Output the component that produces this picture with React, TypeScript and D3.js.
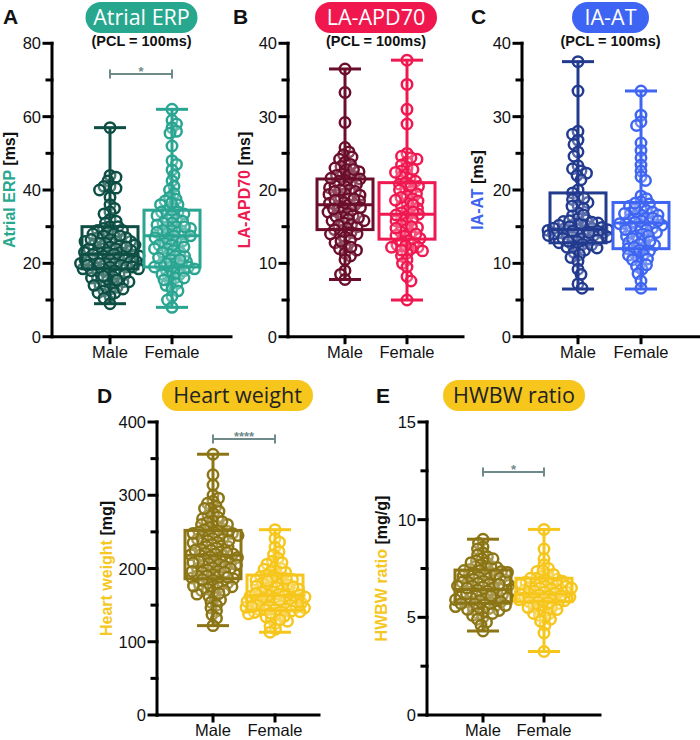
import React from 'react';
import * as d3 from 'd3';

const groups = ['Male', 'Female'];

// ---- Panel A: Atrial ERP (ms) ----
const erpMale = [57, 44, 43.5, 42.5, 41, 41, 40.5, 40, 38, 36, 35, 34, 33.5, 32, 31.5, 31, 30, 30, 29.5, 29, 28.5, 28, 27.5, 27, 26.5, 26, 26, 25.5, 25, 25, 24.5, 24, 24, 23.5, 23, 23, 22.5, 22.5, 22, 22, 21.5, 21, 21, 20.5, 20, 20, 19.5, 19.5, 19, 19, 18.5, 18.5, 18, 18, 17.5, 17, 16.5, 16, 16, 15.5, 15, 14.5, 14, 14, 13.5, 13, 12.5, 12, 12, 11, 10.5, 9, 29, 28, 27, 26, 25.5, 25, 24, 23.5, 23, 22, 21.5, 21, 20.5, 20, 19, 18.5, 18, 17, 16.5, 15.5, 15, 14, 13, 24.5, 22.5, 20, 26.5, 27.5, 21, 19.5];
const erpFemale = [62, 59, 58, 57, 56, 55.5, 52, 48, 47, 45.5, 44, 42.5, 41, 40, 39, 38, 37.5, 37, 36, 36, 35, 34.5, 34, 33.5, 33, 32, 32, 31.5, 31, 30, 30, 29.5, 29, 28.5, 28, 28, 27.5, 27, 26.5, 26, 25.5, 25, 24.5, 24, 23.5, 23, 22.5, 22, 21.5, 21, 20.5, 20, 19.5, 19, 19, 18.5, 18, 17.5, 17, 16.5, 16, 15, 14.5, 14, 13, 12.5, 11, 10, 8, 36.5, 34, 33, 31, 30.5, 29, 28.5, 27, 26, 25, 24, 23, 22, 21, 20, 19.5, 19, 18.5, 18, 17, 16, 30, 27.5, 24.5, 21.5, 15.5];
const erpMaleBox = [9, 18.5, 22.5, 30, 57];
const erpFemaleBox = [8, 19, 27.5, 34.5, 62];

// ---- Panel B: LA-APD70 (ms) ----
const apdMale = [36.5, 33.3, 29.2, 25.8, 25.2, 24.8, 24.5, 24.2, 23.8, 23.5, 23.2, 23, 22.8, 22.5, 22.2, 22, 21.8, 21.5, 21.3, 21, 20.8, 20.5, 20.3, 20, 19.8, 19.5, 19.3, 19, 18.8, 18.5, 18.3, 18, 18, 17.8, 17.5, 17.3, 17, 16.8, 16.5, 16.3, 16, 15.8, 15.5, 15.3, 15, 14.8, 14.5, 14.2, 14, 13.6, 13.2, 12.8, 12.4, 12, 11.8, 11.4, 11, 10.5, 9, 8.5, 7.8, 22.8, 22, 21.2, 20.6, 20, 19.4, 18.8, 18.2, 17.6, 17, 16.4, 15.8, 15.2, 14.6, 14, 13, 12.2, 21.6, 19.8, 18.6, 17.4, 16.2];
const apdFemale = [37.7, 34.4, 31, 29, 25, 24.6, 24.2, 23.8, 23.4, 23, 22.6, 22.2, 21.8, 21.5, 21.2, 20.8, 20.5, 20.2, 19.8, 19.5, 19.2, 18.8, 18.5, 18.2, 17.8, 17.5, 17.2, 16.9, 16.7, 16.4, 16.1, 15.8, 15.5, 15.2, 14.9, 14.6, 14.3, 14, 13.7, 13.4, 13.1, 12.8, 12.5, 12.2, 12, 11.7, 11.4, 11, 10.5, 10, 9.5, 8.2, 7.6, 5, 24.4, 22.4, 21, 20, 19, 18, 17, 16, 15, 14, 13, 12.4, 12.2, 13.8, 14.8, 16.6, 18.6, 20.6, 22.8, 11.8];
const apdMaleBox = [7.8, 14.6, 18, 21.5, 36.5];
const apdFemaleBox = [5, 13.3, 16.7, 21, 37.7];

// ---- Panel C: IA-AT (ms) ----
const atMale = [37.5, 33.5, 28, 27.6, 26.8, 26.2, 25.2, 24.6, 23.3, 22.9, 22.6, 22.3, 22, 21.4, 20, 19.6, 19, 18.7, 18.3, 17.9, 17.5, 16.9, 16.5, 16.1, 15.9, 15.7, 15.5, 15.3, 15.1, 14.9, 14.8, 14.7, 14.6, 14.5, 14.4, 14.3, 14.2, 14.1, 14, 13.9, 13.8, 13.6, 13.4, 13.2, 13, 12.8, 12.6, 12.4, 12.2, 12, 11.8, 11.5, 11.2, 10.8, 10.3, 9.2, 8.5, 7.2, 6.6, 15.8, 15.6, 15.4, 15.2, 15, 14.8, 14.6, 14.4, 14.2, 14, 13.8, 13.6, 13.4, 13.2, 13, 12.5, 12.1, 16.6, 17.8, 18.9];
const atFemale = [33.5, 30.2, 29.3, 28.8, 26.4, 25.4, 24.4, 23.4, 22.6, 21.8, 21.3, 19.2, 18.8, 18.4, 18.1, 17.8, 17.5, 17.2, 16.9, 16.6, 16.4, 16.2, 16, 15.8, 15.6, 15.5, 15.4, 15.2, 15, 14.8, 14.6, 14.4, 14.2, 14, 13.7, 13.4, 13.1, 12.8, 12.5, 12.2, 12, 11.7, 11.4, 11.1, 10.8, 10.5, 10.1, 9.6, 9.2, 8.6, 7.6, 6.6, 17.4, 17, 16.6, 16.2, 15.8, 15.4, 15, 14.6, 14.2, 13.8, 13.4, 13, 12.6, 12.2, 11.8, 11.2, 10.6, 9.8, 18.2, 16.8];
const atMaleBox = [6.5, 12.8, 14.6, 19.6, 37.5];
const atFemaleBox = [6.5, 12, 15.5, 18.3, 33.5];

// ---- Panel D: Heart weight (mg) ----
const hwMale = [356, 328, 314, 300, 296, 292, 289, 285, 282, 278, 275, 272, 270, 268, 265, 263, 260, 258, 256, 255, 253, 251, 250, 248, 246, 245, 243, 241, 240, 238, 236, 235, 233, 231, 230, 228, 226, 225, 223, 221, 220, 219, 218, 216, 215, 213, 212, 210, 209, 207, 206, 204, 203, 201, 200, 198, 197, 195, 194, 192, 190, 189, 187, 186, 184, 182, 180, 178, 176, 174, 172, 170, 168, 165, 162, 160, 157, 154, 150, 146, 142, 137, 132, 122, 260, 250, 245, 240, 235, 230, 225, 220, 215, 210, 205, 200, 195, 190, 185, 180, 175, 170, 222, 208, 196, 188, 238, 248, 264, 282, 176, 166];
const hwFemale = [253, 241, 236, 229, 223, 219, 214, 210, 206, 202, 199, 196, 193, 191, 189, 187, 185, 184, 182, 180, 179, 177, 176, 174, 173, 171, 170, 168, 167, 165, 164, 163, 162, 160, 159, 158, 156, 155, 154, 152, 151, 150, 149, 148, 147, 146, 145, 144, 143, 142, 141, 140, 138, 136, 134, 131, 128, 125, 121, 117, 113, 195, 188, 183, 178, 172, 168, 164, 160, 157, 153, 150, 147, 144, 141, 139, 135, 130, 175, 166, 161, 155, 148, 186, 200, 208];
const hwMaleBox = [122, 186, 218, 252, 356];
const hwFemaleBox = [113, 143, 163, 191, 253];

// ---- Panel E: HWBW ratio (mg/g) ----
const hwbwMale = [9.0, 8.8, 8.6, 8.5, 8.3, 8.2, 8.1, 8.0, 7.9, 7.8, 7.7, 7.6, 7.55, 7.5, 7.45, 7.4, 7.35, 7.3, 7.25, 7.2, 7.15, 7.1, 7.05, 7.0, 6.95, 6.9, 6.85, 6.8, 6.75, 6.7, 6.65, 6.6, 6.55, 6.5, 6.45, 6.4, 6.35, 6.3, 6.25, 6.2, 6.15, 6.1, 6.05, 6.0, 5.95, 5.9, 5.85, 5.8, 5.75, 5.7, 5.65, 5.6, 5.55, 5.5, 5.45, 5.4, 5.35, 5.3, 5.2, 5.1, 5.0, 4.9, 4.75, 4.6, 4.3, 7.6, 7.4, 7.2, 7.0, 6.8, 6.6, 6.4, 6.2, 6.0, 5.8, 5.6, 5.4, 5.2, 7.8, 8.0, 6.9, 6.5, 6.1, 5.9, 5.7, 7.3, 6.7];
const hwbwFemale = [9.5, 8.5, 8.0, 7.7, 7.5, 7.35, 7.2, 7.1, 7.0, 6.95, 6.9, 6.85, 6.8, 6.75, 6.7, 6.65, 6.6, 6.55, 6.5, 6.45, 6.4, 6.35, 6.3, 6.25, 6.2, 6.15, 6.1, 6.05, 6.0, 5.95, 5.9, 5.85, 5.8, 5.75, 5.7, 5.6, 5.5, 5.4, 5.3, 5.2, 5.1, 4.9, 4.6, 4.2, 3.25, 7.0, 6.8, 6.6, 6.4, 6.2, 6.0, 5.8, 5.6, 5.4, 5.2, 5.0, 6.7, 6.3, 6.1, 5.9, 6.5, 7.2, 7.4, 5.5, 4.8];
const hwbwMaleBox = [4.3, 5.72, 6.43, 7.42, 9.0];
const hwbwFemaleBox = [3.25, 5.8, 6.2, 7.0, 9.5];

const FONT = "'Liberation Sans', Arial, Helvetica, sans-serif";
const PILL_FONT = "'Open Sans', 'Noto Sans', sans-serif";
const SIG = '#6f8a8a';

type PanelCfg = {
  letter: string; letterX: number; letterY: number;
  title: string; pillFill: string; pillText: string; pillCx: number; pillY: number; pillW: number;
  subtitle?: string;
  yLabel: string; yUnit: string; labelColor: string; labelX: number;
  domain: [number, number]; major: number; minor: number;
  axisX: number; yTop: number; yBot: number; xEnd: number; cx: number[];
  colors: string[]; data: number[][]; boxes: number[][];
  sig?: { text: string; value: number };
};

const panels: PanelCfg[] = [
  {
    letter: 'A', letterX: 3, letterY: 24, title: 'Atrial ERP', pillFill: '#28a78f', pillText: '#fff', pillCx: 141.5, pillY: 2, pillW: 112,
    subtitle: '(PCL = 100ms)', yLabel: 'Atrial ERP', yUnit: ' [ms]', labelColor: '#2aa88e', labelX: 15,
    domain: [0, 80], major: 20, minor: 10, axisX: 52, yTop: 43.3, yBot: 336.7, xEnd: 231, cx: [110, 172],
    colors: ['#0e4f45', '#2aa592'], data: [erpMale, erpFemale], boxes: [erpMaleBox, erpFemaleBox],
    sig: { text: '*', value: 71.6 },
  },
  {
    letter: 'B', letterX: 233, letterY: 24, title: 'LA-APD70', pillFill: '#f0174f', pillText: '#fff', pillCx: 376, pillY: 2, pillW: 122,
    subtitle: '(PCL = 100ms)', yLabel: 'LA-APD70', yUnit: ' [ms]', labelColor: '#ee1a50', labelX: 250,
    domain: [0, 40], major: 10, minor: 5, axisX: 288, yTop: 43.3, yBot: 336.7, xEnd: 463, cx: [345, 407],
    colors: ['#6b0e2c', '#f01850'], data: [apdMale, apdFemale], boxes: [apdMaleBox, apdFemaleBox],
  },
  {
    letter: 'C', letterX: 471, letterY: 24, title: 'IA-AT', pillFill: '#3e64f3', pillText: '#fff', pillCx: 610.5, pillY: 2, pillW: 77,
    subtitle: '(PCL = 100ms)', yLabel: 'IA-AT', yUnit: ' [ms]', labelColor: '#3d63f0', labelX: 483,
    domain: [0, 40], major: 10, minor: 5, axisX: 522, yTop: 43.3, yBot: 336.7, xEnd: 699, cx: [578, 641],
    colors: ['#233b8f', '#3f66f2'], data: [atMale, atFemale], boxes: [atMaleBox, atFemaleBox],
  },
  {
    letter: 'D', letterX: 97, letterY: 403, title: 'Heart weight', pillFill: '#f6c61c', pillText: '#222', pillCx: 237.5, pillY: 380, pillW: 151,
    yLabel: 'Heart weight', yUnit: ' [mg]', labelColor: '#f5c723', labelX: 112,
    domain: [0, 400], major: 100, minor: 50, axisX: 157, yTop: 422, yBot: 715, xEnd: 319, cx: [213, 275],
    colors: ['#8b7514', '#f6c61c'], data: [hwMale, hwFemale], boxes: [hwMaleBox, hwFemaleBox],
    sig: { text: '****', value: 376.8 },
  },
  {
    letter: 'E', letterX: 376, letterY: 403, title: 'HWBW ratio', pillFill: '#f6c61c', pillText: '#222', pillCx: 514, pillY: 380, pillW: 142,
    yLabel: 'HWBW ratio', yUnit: ' [mg/g]', labelColor: '#f5c723', labelX: 387,
    domain: [0, 15], major: 5, minor: 2.5, axisX: 427, yTop: 422, yBot: 715, xEnd: 600, cx: [483, 544],
    colors: ['#8b7514', '#f6c61c'], data: [hwbwMale, hwbwFemale], boxes: [hwbwMaleBox, hwbwFemaleBox],
    sig: { text: '*', value: 12.44 },
  },
];

function swarm(ys: number[], minDist: number, maxOff: number): number[] {
  const order = ys.map((y, i) => i).sort((a, b) => ys[a] - ys[b]);
  const placed: { x: number; y: number }[] = [];
  const xs = new Array(ys.length).fill(0);
  order.forEach((idx, n) => {
    const y = ys[idx];
    const sign = n % 2 === 0 ? 1 : -1;
    let chosen = 0;
    let bestGap = -1;
    for (let k = 0; ; k++) {
      const cand = k === 0 ? 0 : (k % 2 === 1 ? sign : -sign) * Math.ceil(k / 2) * 0.5;
      if (Math.abs(cand) > maxOff) break;
      let gap = Infinity;
      for (const p of placed) {
        const dx = p.x - cand, dy = p.y - y;
        gap = Math.min(gap, Math.sqrt(dx * dx + dy * dy));
      }
      if (gap >= minDist) { chosen = cand; bestGap = gap; break; }
      if (gap > bestGap + 0.5) { bestGap = gap; chosen = cand; }
    }
    placed.push({ x: chosen, y });
    xs[idx] = chosen;
  });
  return xs;
}

function Panel({ p }: { p: PanelCfg }) {
  const y = d3.scaleLinear().domain(p.domain).range([p.yBot, p.yTop]);
  const x = d3.scaleOrdinal<string, number>().domain(groups).range(p.cx);
  const majors = d3.range(p.domain[0], p.domain[1] + 0.001, p.major);
  const minors = d3.range(p.domain[0] + p.minor, p.domain[1], p.major);
  const boxW = 56, capW = 32;
  const labelCy = (p.yTop + p.yBot) / 2;
  return (
    <g>
      <text x={p.letterX} y={p.letterY} fontFamily={FONT} fontWeight="bold" fontSize={21} fill="#111">{p.letter}</text>
      <rect x={p.pillCx - p.pillW / 2} y={p.pillY} width={p.pillW} height={31} rx={15.5} fill={p.pillFill} />
      <text x={p.pillCx} y={p.pillY + 23} textAnchor="middle" fontFamily={PILL_FONT} fontSize={21.5} fill={p.pillText}>{p.title}</text>
      {p.subtitle && (
        <text x={p.pillCx} y={46} textAnchor="middle" fontFamily={FONT} fontWeight="bold" fontSize={14.5} fill="#111">{p.subtitle}</text>
      )}
      <text transform={`translate(${p.labelX},${labelCy}) rotate(-90)`} textAnchor="middle" fontFamily={FONT} fontWeight="bold" fontSize={16}>
        <tspan fill={p.labelColor}>{p.yLabel}</tspan>
        <tspan fill="#111">{p.yUnit}</tspan>
      </text>
      {/* points */}
      {groups.map((g, gi) => {
        const ys = p.data[gi].map((v) => y(v));
        const xs = swarm(ys, 5.8, 30);
        return (
          <g key={g}>
            {ys.map((yy, i) => (
              <circle key={i} cx={(x(g) as number) + xs[i]} cy={yy} r={5.2} fill="#fff" fillOpacity={0.25} stroke={p.colors[gi]} strokeWidth={2.5} />
            ))}
          </g>
        );
      })}
      {/* boxes */}
      {groups.map((g, gi) => {
        const [mn, q1, md, q3, mx] = p.boxes[gi];
        const cx = x(g) as number;
        const c = p.colors[gi];
        return (
          <g key={g} stroke={c} strokeWidth={3} fill="none">
            <line x1={cx} x2={cx} y1={y(mx)} y2={y(q3)} />
            <line x1={cx} x2={cx} y1={y(q1)} y2={y(mn)} />
            <line x1={cx - capW / 2} x2={cx + capW / 2} y1={y(mx)} y2={y(mx)} />
            <line x1={cx - capW / 2} x2={cx + capW / 2} y1={y(mn)} y2={y(mn)} />
            <rect x={cx - boxW / 2} y={y(q3)} width={boxW} height={y(q1) - y(q3)} />
            <line x1={cx - boxW / 2} x2={cx + boxW / 2} y1={y(md)} y2={y(md)} />
          </g>
        );
      })}
      {/* axes */}
      <g stroke="#000" strokeWidth={3} strokeLinecap="square">
        <line x1={p.axisX} x2={p.axisX} y1={p.yBot} y2={p.yTop} />
        <line x1={p.axisX} x2={p.xEnd} y1={p.yBot} y2={p.yBot} />
        {majors.map((v) => <line key={'M' + v} x1={p.axisX - 8} x2={p.axisX} y1={y(v)} y2={y(v)} />)}
        {minors.map((v) => <line key={'m' + v} x1={p.axisX - 5} x2={p.axisX} y1={y(v)} y2={y(v)} />)}
        {groups.map((g) => <line key={g} x1={x(g) as number} x2={x(g) as number} y1={p.yBot} y2={p.yBot + 6} />)}
      </g>
      {majors.map((v) => (
        <text key={'t' + v} x={p.axisX - 11} y={y(v) + 6} textAnchor="end" fontFamily={FONT} fontSize={16.5} fill="#111">{v}</text>
      ))}
      {groups.map((g) => (
        <text key={'l' + g} x={x(g) as number} y={p.yBot + 21} textAnchor="middle" fontFamily={FONT} fontSize={16.5} fill="#111">{g}</text>
      ))}
      {p.sig && (
        <g>
          <g stroke={SIG} strokeWidth={2}>
            <line x1={p.cx[0]} x2={p.cx[1]} y1={y(p.sig.value)} y2={y(p.sig.value)} />
            <line x1={p.cx[0]} x2={p.cx[0]} y1={y(p.sig.value) - 4.5} y2={y(p.sig.value) + 4.5} />
            <line x1={p.cx[1]} x2={p.cx[1]} y1={y(p.sig.value) - 4.5} y2={y(p.sig.value) + 4.5} />
          </g>
          <text x={(p.cx[0] + p.cx[1]) / 2} y={y(p.sig.value) + 2} textAnchor="middle" fontFamily={FONT} fontWeight="bold" fontSize={13} fill={SIG}>{p.sig.text}</text>
        </g>
      )}
    </g>
  );
}

export default function App() {
  return (
    <svg width={700} height={740} viewBox="0 0 700 740" style={{ position: 'absolute', left: 0, top: 0, background: '#fff' }}>
      <rect width={700} height={740} fill="#fff" />
      {panels.map((p) => <Panel key={p.letter} p={p} />)}
    </svg>
  );
}
